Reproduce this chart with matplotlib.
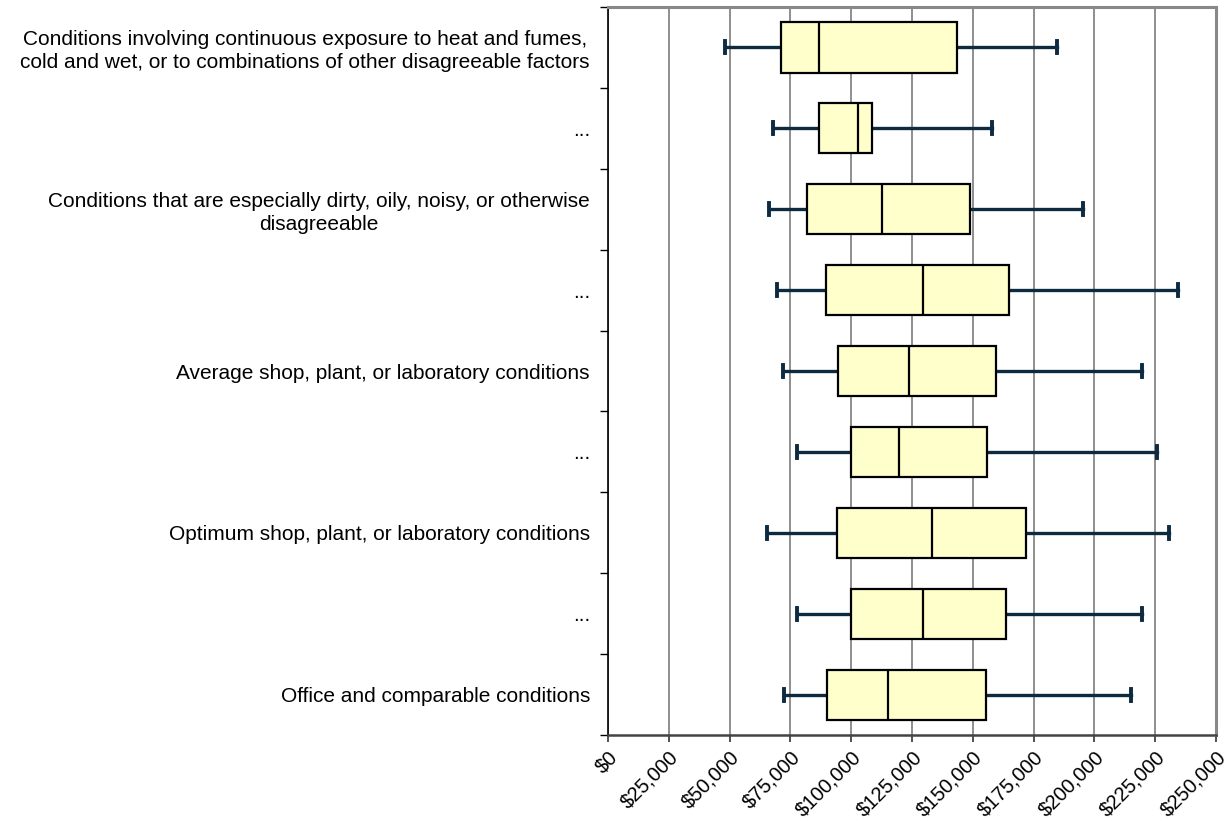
import matplotlib
matplotlib.use("Agg")
import matplotlib.pyplot as plt
from matplotlib.ticker import FuncFormatter, FixedLocator

plt.rcParams['font.family'] = ['Liberation Sans', 'DejaVu Sans']

# categories, top to bottom
labels = [
    "Conditions involving continuous exposure to heat and fumes,\ncold and wet, or to combinations of other disagreeable factors",
    "...",
    "Conditions that are especially dirty, oily, noisy, or otherwise\ndisagreeable",
    "...",
    "Average shop, plant, or laboratory conditions",
    "...",
    "Optimum shop, plant, or laboratory conditions",
    "...",
    "Office and comparable conditions",
]

# salary stats
whis_lo = [48000, 67700, 66300, 69500, 71800, 77800, 65500, 77800, 72200]
q1      = [71000, 86700, 81800, 89700, 94700, 99800, 94300, 99800, 90000]
median  = [86700, 102700, 112700, 129700, 123700, 119700, 133400, 129700, 115200]
q3      = [143700, 108700, 148700, 164700, 159700, 155700, 171700, 163700, 155400]
whis_hi = [184800, 157900, 195100, 234500, 219700, 225700, 230800, 219700, 215200]

xticks = list(range(0, 250001, 25000))

stats = []
for i in range(len(labels)):
    stats.append(dict(whislo=whis_lo[i], q1=q1[i], med=median[i],
                      q3=q3[i], whishi=whis_hi[i], fliers=[]))

fig = plt.figure(figsize=(12.25, 8.21), dpi=100)
ax = fig.add_axes([0.4963, 0.1047, 0.4964, 0.8868])

pos = list(range(len(labels)))
ax.bxp(stats, positions=pos, widths=0.62, capwidths=0.15,
       orientation='horizontal', patch_artist=True, showfliers=False,
       boxprops=dict(facecolor='#ffffcc', edgecolor='black', linewidth=1.6, zorder=4),
       medianprops=dict(color='black', linewidth=1.6, zorder=5),
       whiskerprops=dict(color='#0d2a40', linewidth=2.4, zorder=3),
       capprops=dict(color='#0d2a40', linewidth=2.8, zorder=3))

ax.set_xlim(0, 250000)
ax.set_ylim(len(labels) - 0.5, -0.5)

ax.set_xticks(xticks)
ax.xaxis.set_major_formatter(FuncFormatter(lambda v, p: "${:,.0f}".format(v)))
for t in ax.get_xticklabels():
    t.set_rotation(45)
    t.set_ha('right')
    t.set_rotation_mode('anchor')
    t.set_fontsize(14.5)
ax.tick_params(axis='x', direction='out', length=5, width=1.2, pad=4, color='#333333')

# category boundaries as major ticks, labels on minor ticks
ax.yaxis.set_major_locator(FixedLocator([p - 0.5 for p in pos] + [pos[-1] + 0.5]))
ax.yaxis.set_major_formatter(FuncFormatter(lambda v, p: ""))
ax.yaxis.set_minor_locator(FixedLocator(pos))
ax.set_yticklabels(labels, minor=True)
ax.tick_params(axis='y', which='major', direction='out', length=6, width=1, color='black')
ax.tick_params(axis='y', which='minor', length=0, pad=13, labelsize=15)
for t in ax.get_yticklabels(minor=True):
    t.set_multialignment('center')
    t.set_linespacing(1.25)

ax.grid(axis='x', color='#707070', linewidth=1.1, zorder=0)
ax.set_axisbelow(True)

ax.spines['top'].set_color('#888888')
ax.spines['top'].set_linewidth(2.2)
ax.spines['right'].set_color('#888888')
ax.spines['right'].set_linewidth(2.2)
ax.spines['left'].set_color('black')
ax.spines['left'].set_linewidth(1.2)
ax.spines['bottom'].set_color('#444444')
ax.spines['bottom'].set_linewidth(1.8)

fig.savefig("out.png", dpi=100)
